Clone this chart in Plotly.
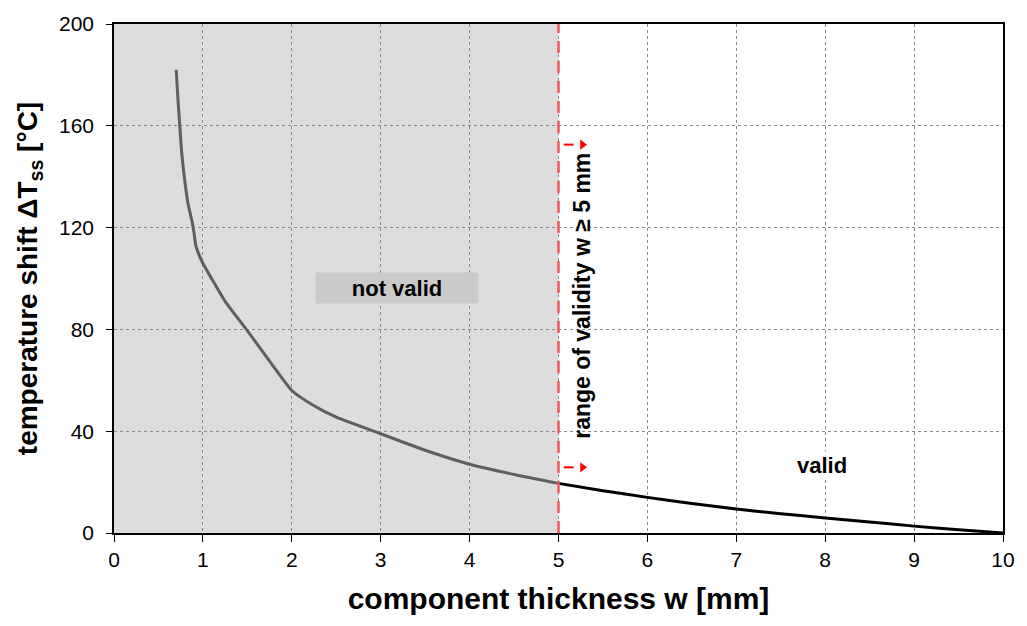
import plotly.graph_objects as go

# data
w_invalid = [0.70, 0.72, 0.74, 0.76, 0.79, 0.83, 0.88, 0.90, 0.92, 0.96, 1.0, 1.25, 1.5, 1.75,
             2.0, 2.25, 2.5, 3.0, 3.5, 4.0, 4.5, 5.0]
dT_invalid = [182, 170, 160, 150, 140, 130, 122, 118, 113, 109, 106, 91, 79.5, 67.5,
              56, 50, 45.5, 39, 32.5, 27, 23, 19.5]
w_valid = [5.0, 5.5, 6.0, 6.5, 7.0, 7.5, 8.0, 8.5, 9.0, 9.5, 10.0]
dT_valid = [19.5, 16.6, 14.0, 11.6, 9.4, 7.6, 5.9, 4.3, 2.7, 1.3, 0.0]
x_ticks = [0, 1, 2, 3, 4, 5, 6, 7, 8, 9, 10]
y_ticks = [0, 40, 80, 120, 160, 200]
limit_w = 5
arrow_y = [152.6, 25.8]

FONT = "Liberation Sans, Arial, sans-serif"
RED = "#e8585d"

fig = go.Figure()

fig.add_trace(go.Scatter(x=w_invalid, y=dT_invalid, mode="lines",
                         line=dict(color="#5f5f5f", width=3, shape="spline", smoothing=0.5),
                         hoverinfo="skip"))
fig.add_trace(go.Scatter(x=w_valid, y=dT_valid, mode="lines",
                         line=dict(color="#000000", width=3, shape="spline", smoothing=0.5),
                         hoverinfo="skip"))

# arrows: dash + head
for ya in arrow_y:
    fig.add_trace(go.Scatter(x=[limit_w + 0.06, limit_w + 0.17], y=[ya, ya], mode="lines",
                             line=dict(color="red", width=2), hoverinfo="skip"))
    fig.add_trace(go.Scatter(x=[limit_w + 0.27], y=[ya], mode="markers",
                             marker=dict(symbol="triangle-right", size=9, color="red"),
                             hoverinfo="skip"))

fig.add_shape(type="rect", x0=0, x1=limit_w, y0=0, y1=200, xref="x", yref="y",
              fillcolor="#dddddd", line=dict(width=0), layer="below")
fig.add_shape(type="line", x0=limit_w, x1=limit_w, y0=0, y1=200, xref="x", yref="y",
              line=dict(color=RED, width=2.5, dash="12px,8px"))

fig.add_annotation(x=3.18, y=96.3, text="<b>not valid</b>", showarrow=False,
                   font=dict(family=FONT, size=22, color="black"),
                   bgcolor="#cacaca", width=156, height=24, borderpad=3)
fig.add_annotation(x=7.96, y=26.6, text="<b>valid</b>", showarrow=False,
                   font=dict(family=FONT, size=22, color="black"),
                   bgcolor="white", borderpad=1)
fig.add_annotation(x=5.27, y=93, text="<b>range of validity w ≥ 5 mm</b>", showarrow=False,
                   textangle=-90, font=dict(family=FONT, size=23, color="black"))

fig.update_layout(
    width=1027, height=626,
    margin=dict(l=114, r=24, t=22, b=93),
    paper_bgcolor="white", plot_bgcolor="white",
    showlegend=False,
    font=dict(family=FONT, size=20, color="black"),
)
fig.update_xaxes(
    range=[0, 10], tickvals=x_ticks, ticktext=[str(v) for v in x_ticks],
    showgrid=True, gridcolor="#8a8a8a", griddash="dot", gridwidth=1,
    showline=True, linecolor="black", linewidth=1.5, mirror=True,
    ticks="outside", ticklen=7, tickcolor="black", zeroline=False,
    tickfont=dict(size=21),
    title=dict(text="<b>component thickness w [mm]</b>", font=dict(size=30), standoff=18),
)
fig.update_yaxes(
    range=[0, 200], tickvals=y_ticks, ticktext=[str(v) for v in y_ticks],
    showgrid=True, gridcolor="#8a8a8a", griddash="dot", gridwidth=1,
    showline=True, linecolor="black", linewidth=1.5, mirror=True,
    ticks="outside", ticklen=6, tickcolor="black", zeroline=False,
    tickfont=dict(size=21), ticklabelstandoff=8,
    title=dict(text="<b>temperature shift ΔT<sub>ss</sub> [°C]</b>", font=dict(size=28), standoff=13),
)

fig.write_html("out.html")
